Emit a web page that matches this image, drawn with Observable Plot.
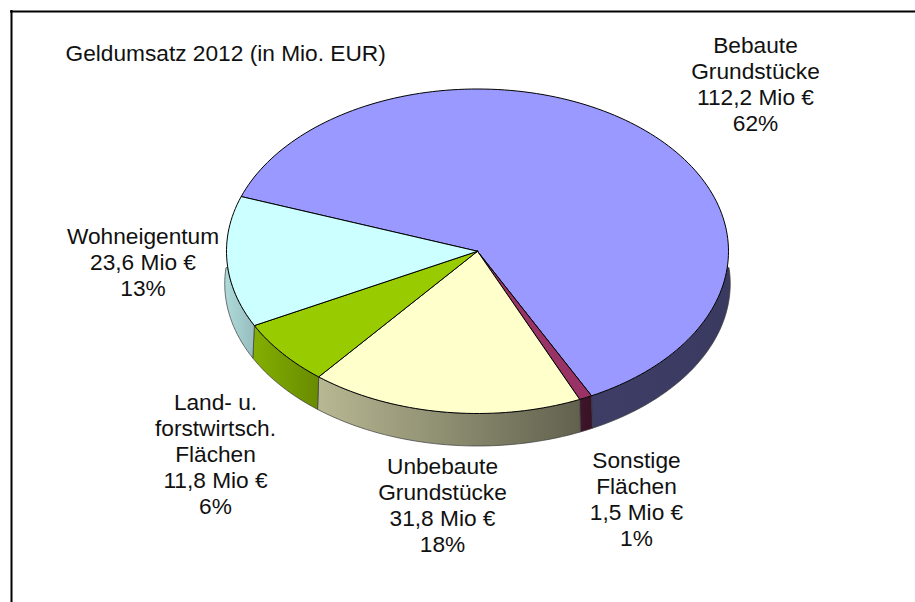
<!DOCTYPE html>
<html lang="de">
<head>
<meta charset="utf-8">
<title>Geldumsatz 2012</title>
<style>
html,body{margin:0;padding:0;background:#fff}
svg{display:block}
</style>
<script src="https://cdn.jsdelivr.net/npm/d3@7"></script>
<script src="https://cdn.jsdelivr.net/npm/@observablehq/plot@0.6"></script>
</head>
<body>
<div id="chart"></div>
<script>
const names = ["Bebaute Grundstücke", "Sonstige Flächen", "Unbebaute Grundstücke", "Land- u. forstwirtsch. Flächen", "Wohneigentum"];
const values = [112.2, 1.5, 31.8, 11.8, 23.6];
const valueLabels = ["112,2 Mio €", "1,5 Mio €", "31,8 Mio €", "11,8 Mio €", "23,6 Mio €"];
const shares = ["62%", "1%", "18%", "6%", "13%"];
const labelNames = ["Bebaute\nGrundstücke", "Sonstige\nFlächen", "Unbebaute\nGrundstücke", "Land- u.\nforstwirtsch.\nFlächen", "Wohneigentum"];
const topColors = ["#9999ff", "#993366", "#ffffcc", "#99cc00", "#ccffff"];
const title = "Geldumsatz 2012 (in Mio. EUR)";

// layout (pixel frame of the pie, converted into the pie's unit coordinates)
const W = 915, H = 602;
const cx = 477, rx = 251, cy = 250.75, ry = 162.25, depthPx = 32.5, wallCutPx = 16;
const ux = (px) => (px - cx) / rx;
const uy = (py) => (py - cy) / ry;
const depth = depthPx / ry;
const startAngle = -70.3;
const outerScale = 1.007;
const labelAt = [[755, 83], [636, 498.5], [442, 504], [215, 453], [142.5, 261]];
const shadeStops = [[0.40, 0.38], [0.42, 0.36], [0.72, 0.38], [0.86, 0.68], [0.86, 0.74]];

const total = d3.sum(values);
const rad = (a) => a * Math.PI / 180;
const rim = (a) => ({x: Math.sin(rad(a)), y: -Math.cos(rad(a))});
const outerRim = (a) => ({x: Math.sin(rad(a)) * outerScale, y: -Math.cos(rad(a)) + depth});
const cut = Math.asin(wallCutPx / ry) * 180 / Math.PI;
function arc(a0, a1) {
  const n = Math.max(2, Math.ceil(Math.abs(a1 - a0) / 1.5));
  return d3.range(n + 1).map((i) => a0 + (a1 - a0) * i / n);
}

let acc = startAngle;
const slices = values.map((v, i) => {
  const a0 = acc;
  const a1 = acc + v / total * 360;
  acc = a1;
  return {i, a0, a1};
});

function topPath(s) {
  const pts = [{x: 0, y: 0}, ...arc(s.a0, s.a1).map(rim)];
  pts.push(pts[0]);
  return pts;
}
function sidePath(s) {
  const t0 = Math.max(s.a0, 90 + cut), t1 = Math.min(s.a1, 270 - cut);
  const o0 = Math.max(s.a0, 90 - cut), o1 = Math.min(s.a1, 270 + cut);
  if (t1 <= t0) return [];
  const pts = [...arc(t0, t1).map(rim), ...arc(o1, o0).map(outerRim)];
  pts.push(pts[0]);
  return pts;
}

function scaleColor(hex, k) {
  const c = d3.rgb(hex);
  return d3.rgb(c.r * k, c.g * k, c.b * k).formatHex();
}

const defs = () => {
  const svgNS = "http://www.w3.org/2000/svg";
  const d = document.createElementNS(svgNS, "defs");
  slices.forEach((s) => {
    const g = document.createElementNS(svgNS, "linearGradient");
    g.setAttribute("id", "side" + s.i);
    g.setAttribute("x1", "0"); g.setAttribute("x2", "1");
    g.setAttribute("y1", "0"); g.setAttribute("y2", "0");
    [0, 1].forEach((o) => {
      const st = document.createElementNS(svgNS, "stop");
      st.setAttribute("offset", o);
      st.setAttribute("stop-color", scaleColor(topColors[s.i], shadeStops[s.i][o]));
      g.appendChild(st);
    });
    d.appendChild(g);
  });
  return d;
};

const sideMarks = slices.map((s) => Plot.line(sidePath(s), {
  x: "x", y: "y",
  fill: `url(#side${s.i})`,
  stroke: "#3a3a3a", strokeWidth: 1, strokeOpacity: 0.7,
  curve: "linear", strokeLinejoin: "round"
}));
const topMarks = slices.map((s) => Plot.line(topPath(s), {
  x: "x", y: "y",
  fill: topColors[s.i],
  stroke: "#000", strokeWidth: 1,
  curve: "linear", strokeLinejoin: "round"
}));

const labels = slices.map((s) => ({
  x: ux(labelAt[s.i][0]),
  y: uy(labelAt[s.i][1]),
  text: `${labelNames[s.i]}\n${valueLabels[s.i]}\n${shares[s.i]}`
}));

const textStyle = {fontFamily: "'Liberation Sans', Arial, sans-serif", fontSize: 22.7, fill: "#111"};

const chart = Plot.plot({
  width: W, height: H,
  margin: 0,
  style: {background: "#fff", overflow: "hidden"},
  x: {type: "linear", domain: [-1, 1], range: [cx - rx, cx + rx], axis: null},
  y: {type: "linear", domain: [-1, 1], range: [cy - ry, cy + ry], axis: null},
  marks: [
    defs,
    Plot.ruleY([uy(11)], {x1: ux(10), x2: ux(W), stroke: "#000", strokeWidth: 2}),
    Plot.ruleX([ux(11)], {y1: uy(10), y2: uy(H), stroke: "#000", strokeWidth: 2}),
    ...sideMarks,
    ...topMarks,
    Plot.text(labels, {x: "x", y: "y", text: "text", lineHeight: 1.145, textAnchor: "middle", ...textStyle}),
    Plot.text([title], {x: ux(65), y: uy(53), textAnchor: "start", ...textStyle})
  ]
});
document.getElementById("chart").appendChild(chart);
</script>
</body>
</html>
